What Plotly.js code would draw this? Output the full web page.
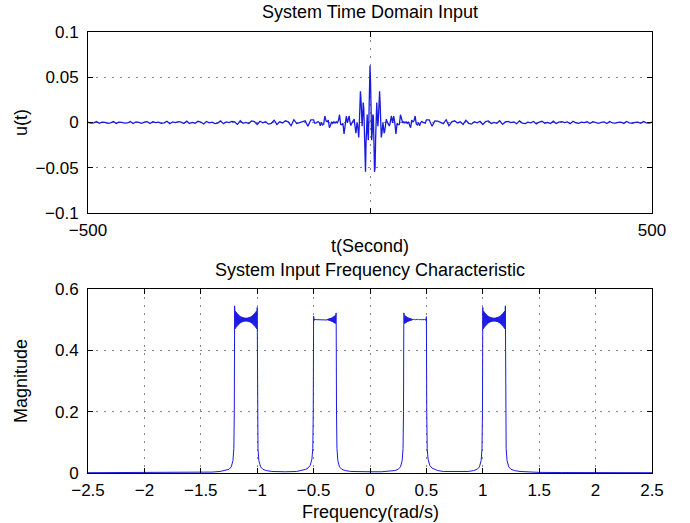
<!DOCTYPE html>
<html>
<head>
<meta charset="utf-8">
<script src="https://cdn.plot.ly/plotly-3.0.1.min.js"></script>
<style>html,body{margin:0;padding:0;background:#fff;}#chart{width:690px;height:523px;}</style>
</head>
<body>
<div id="chart"></div>
<script>
// ---------- Top panel: u(t) ----------
// sampled pieces: start time, step (s), values
const uFarNegStart = -500, uFarNegStep = 5;
const uFarNeg = [0.0003,-0.0006,-0.0004,0.0010,-0.0009,0.0004,0.0001,-0.0008,-0.0003,0.0011,
  -0.0010,0.0005,0.0001,-0.0007,-0.0005,0.0012,-0.0011,0.0006,0.0002,-0.0009,
  0.0003,0.0010,-0.0012,0.0008,-0.0001,0.0003,-0.0009,-0.0004,0.0014,-0.0013,
  0.0007,-0.0002,0.0009,0.0003,-0.0012,0.0015,-0.0010,0.0001,-0.0008,0.0013,
  0.0005,-0.0016,0.0011,-0.0003,0.0004,-0.0012,-0.0007,0.0018,-0.0014,0.0006,
  -0.0002,0.0011,0.0006,-0.0021,0.0019,-0.0009,0.0001,-0.0010,0.0017,0.0011,
  -0.0022,0.0014,-0.0003,0.0008,-0.0018,-0.0009,0.0025,-0.0021,0.0007,-0.0005,
  0.0019,0.0008,-0.0036,0.0031,-0.0012,-0.0002,0.0015,0.0018,-0.0041,0.0030];
const uMidNegStart = -100, uMidNegStep = 2;
const uMidNeg = [0.0029,-0.0007,-0.0006,0.0000,0.0011,-0.0001,-0.0035,-0.0001,-0.0027,-0.0016,
  0.0072,0.0017,0.0007,0.0028,-0.0058,-0.0030,0.0008,-0.0010,0.0007,-0.0007,
  0.0008,-0.0005,0.0021,0.0086,-0.0023,-0.0026,-0.0008,-0.0127,-0.0002,0.0070];
const uCoreStart = -40, uCoreStep = 1;
const uCore = [-0.0003,0.0029,0.0074,0.0073,0.0023,-0.0027,-0.0035,-0.0015,-0.0001,0.0000,
  0.0012,0.0038,0.0038,-0.0019,-0.0097,-0.0118,-0.0061,0.0001,-0.0025,-0.0126,
  -0.0166,-0.0034,0.0205,0.0345,0.0260,0.0054,-0.0040,0.0072,0.0221,0.0151,
  -0.0174,-0.0500,-0.0545,-0.0233,0.0064,0.0089,-0.0104,-0.0196,0.0034,0.0437,
  0.0630,
  0.0437,0.0034,-0.0196,-0.0104,0.0089,0.0064,-0.0233,-0.0545,-0.0500,-0.0174,
  0.0151,0.0221,0.0072,-0.0040,0.0054,0.0260,0.0345,0.0205,-0.0034,-0.0166,
  -0.0126,-0.0025,0.0001,-0.0061,-0.0118,-0.0097,-0.0019,0.0038,0.0038,0.0012,
  0.0000,-0.0001,-0.0015,-0.0035,-0.0027,0.0023,0.0073,0.0074,0.0029,-0.0003];
const uMidPosStart = 42, uMidPosStep = 2;
const uMidPos = [0.0070,-0.0002,-0.0127,-0.0008,-0.0026,-0.0023,0.0086,0.0021,-0.0005,0.0008,
  -0.0007,0.0007,-0.0010,0.0008,-0.0030,-0.0058,0.0028,0.0007,0.0017,0.0072,
  -0.0016,-0.0027,-0.0001,-0.0035,-0.0001,0.0011,0.0000,-0.0006,-0.0007,0.0029];
const uFarPosStart = 105, uFarPosStep = 5;
const uFarPos = [0.0030,-0.0041,0.0018,0.0015,-0.0002,-0.0012,0.0031,-0.0036,0.0008,0.0019,
  -0.0005,0.0007,-0.0021,0.0025,-0.0009,-0.0018,0.0008,-0.0003,0.0014,-0.0022,
  0.0011,0.0017,-0.0010,0.0001,-0.0009,0.0019,-0.0021,0.0006,0.0011,-0.0002,
  0.0006,-0.0014,0.0018,-0.0007,-0.0012,0.0004,-0.0003,0.0011,-0.0016,0.0005,
  0.0013,-0.0008,0.0001,-0.0010,0.0015,-0.0012,0.0003,0.0009,-0.0002,0.0007,
  -0.0013,0.0014,-0.0004,-0.0009,0.0003,-0.0001,0.0008,-0.0012,0.0010,0.0003,
  -0.0009,0.0002,0.0006,-0.0011,0.0012,-0.0005,-0.0007,0.0001,0.0005,-0.0010,
  0.0011,-0.0003,-0.0008,0.0001,0.0004,-0.0009,0.0010,-0.0004,-0.0006,0.0003];

// ---------- Bottom panel: magnitude spectrum ----------
// skirts / baseline points (frequency, magnitude)
const skirtW = [-2.5,-2.0,-1.7,-1.5,-1.4,-1.33,-1.28,-1.25,-1.23,-1.215,-1.207,-1.203,
  -0.997,-0.993,-0.985,-0.97,-0.95,-0.92,-0.87,-0.8,-0.75,-0.65,-0.6,-0.57,-0.55,-0.53,-0.515,-0.507,-0.503,
  -0.297,-0.293,-0.285,-0.27,-0.25,-0.22,-0.17,-0.1,0,0.1,0.17,0.22,0.25,0.27,0.285,0.293,0.297,
  0.503,0.507,0.515,0.53,0.55,0.57,0.6,0.65,0.75,0.8,0.87,0.92,0.95,0.97,0.985,0.993,0.997,
  1.203,1.207,1.215,1.23,1.25,1.28,1.33,1.4,1.5,1.7,2.0,2.5];
const skirtM = [0.001,0.001,0.0015,0.002,0.003,0.005,0.008,0.012,0.02,0.04,0.08,0.2,
  0.2,0.08,0.04,0.02,0.012,0.008,0.005,0.004,0.004,0.005,0.008,0.012,0.016,0.025,0.045,0.08,0.2,
  0.2,0.08,0.04,0.02,0.012,0.008,0.005,0.004,0.004,0.004,0.005,0.008,0.012,0.02,0.04,0.08,0.2,
  0.2,0.08,0.045,0.025,0.016,0.012,0.008,0.005,0.004,0.004,0.005,0.008,0.012,0.02,0.04,0.08,0.2,
  0.2,0.08,0.04,0.02,0.012,0.008,0.005,0.003,0.002,0.0015,0.001,0.001];
// rippled pass-band tops: band start frequency, step, values
const bandStart = [-1.2, -0.5, 0.3, 1.0];
const bandStep = 0.004;
const topOuterL = [0.545,0.470,0.528,0.474,0.524,0.478,0.520,0.481,0.517,0.484,0.514,0.487,0.512,0.489,0.510,0.491,0.509,0.492,0.508,0.493,0.507,0.494,0.506,0.494,0.506,0.495,
  0.506,0.494,0.506,0.494,0.507,0.493,0.508,0.492,0.509,0.491,0.510,0.489,0.512,0.487,0.514,0.484,0.517,0.481,0.520,0.478,0.524,0.474,0.528,0.470,0.540];
const topInnerL = [0.512,0.497,0.502,0.499,0.501,0.500,0.500,0.501,0.499,0.500,0.500,0.501,0.499,0.500,0.500,0.501,0.499,0.500,0.501,0.499,
  0.500,0.501,0.499,0.500,0.501,0.499,0.500,0.501,0.499,0.501,0.499,0.502,0.498,0.503,0.497,0.504,0.496,0.505,0.495,0.506,
  0.494,0.507,0.493,0.509,0.491,0.511,0.489,0.513,0.487,0.516,0.522];
const topInnerR = [0.522,0.516,0.487,0.513,0.489,0.511,0.491,0.509,0.493,0.507,0.494,0.506,0.495,0.505,0.496,0.504,0.497,0.503,0.498,0.502,
  0.499,0.501,0.499,0.500,0.501,0.499,0.500,0.501,0.499,0.500,0.501,0.499,0.500,0.501,0.499,0.500,0.500,0.501,0.499,0.500,
  0.500,0.501,0.499,0.500,0.500,0.501,0.499,0.501,0.502,0.497,0.510];
const topOuterR = [0.540,0.470,0.528,0.474,0.524,0.478,0.520,0.481,0.517,0.484,0.514,0.487,0.512,0.489,0.510,0.491,0.509,0.492,0.508,0.493,0.507,0.494,0.506,0.494,0.506,0.495,
  0.506,0.494,0.506,0.494,0.507,0.493,0.508,0.492,0.509,0.491,0.510,0.489,0.512,0.487,0.514,0.484,0.517,0.481,0.520,0.478,0.524,0.474,0.528,0.470,0.545];
const bandTops = [topOuterL, topInnerL, topInnerR, topOuterR];

// tick labels (the reference shows no label under the 0 tick of the time axis)
const topXTicks = [-500, 0, 500], topXText = ['\u2212500', '', '500'];
const topYTicks = [-0.1, -0.05, 0, 0.05, 0.1], topYText = ['\u22120.1', '\u22120.05', '0', '0.05', '0.1'];
const botXTicks = [-2.5,-2,-1.5,-1,-0.5,0,0.5,1,1.5,2,2.5];
const botXText = ['\u22122.5','\u22122','\u22121.5','\u22121','\u22120.5','0','0.5','1','1.5','2','2.5'];
const botYTicks = [0, 0.2, 0.4, 0.6], botYText = ['0', '0.2', '0.4', '0.6'];

// ---------- assemble ----------
function piece(start, step, vals, tx, ty) { vals.forEach((v, i) => { tx.push(+(start + i * step).toFixed(4)); ty.push(v); }); }
const tt = [], uu = [];
piece(uFarNegStart, uFarNegStep, uFarNeg, tt, uu);
piece(uMidNegStart, uMidNegStep, uMidNeg, tt, uu);
piece(uCoreStart, uCoreStep, uCore, tt, uu);
piece(uMidPosStart, uMidPosStep, uMidPos, tt, uu);
piece(uFarPosStart, uFarPosStep, uFarPos, tt, uu);

let pts = skirtW.map((w, i) => [w, skirtM[i]]);
bandTops.forEach((vals, b) => { const bx = [], by = []; piece(bandStart[b], bandStep, vals, bx, by); bx.forEach((w, i) => pts.push([w, by[i]])); });
pts.sort((a, b) => a[0] - b[0]);
const ww = pts.map(p => p[0]), mm = pts.map(p => p[1]);

const lineCol = '#1a1ae0';
const FONT = 'Liberation Sans, Arial, Helvetica, sans-serif';
const traces = [
  { x: tt, y: uu, type: 'scatter', mode: 'lines', line: { color: lineCol, width: 1.3 }, xaxis: 'x', yaxis: 'y', hoverinfo: 'skip' },
  { x: ww, y: mm, type: 'scatter', mode: 'lines', line: { color: lineCol, width: 1 }, xaxis: 'x2', yaxis: 'y2', hoverinfo: 'skip' }
];

const axCommon = {
  showline: true, linecolor: '#000', linewidth: 1, mirror: 'ticks',
  ticks: 'inside', ticklen: 5, tickcolor: '#000', tickwidth: 1,
  showgrid: true, gridcolor: '#8a8a8a', griddash: '2px,6px', gridwidth: 1,
  zeroline: false, tickfont: { family: FONT, size: 17, color: '#000' }, tickmode: 'array'
};
const P = (px) => (px - 88) / 564, Q = (py) => (473 - py) / 441;
const annFont = { family: FONT, size: 18, color: '#000' };
const layout = {
  width: 690, height: 523, showlegend: false,
  paper_bgcolor: '#fff', plot_bgcolor: '#fff',
  margin: { l: 88, r: 38, t: 32, b: 50 },
  xaxis: Object.assign({}, axCommon, { domain: [0, 1], anchor: 'y', range: [-500, 500], tickvals: topXTicks, ticktext: topXText, ticklabelstandoff: 2 }),
  yaxis: Object.assign({}, axCommon, { domain: [Q(213), 1], anchor: 'x', range: [-0.1, 0.1], tickvals: topYTicks, ticktext: topYText, ticklabelstandoff: 5 }),
  xaxis2: Object.assign({}, axCommon, { domain: [0, 1], anchor: 'y2', range: [-2.5, 2.5], tickvals: botXTicks, ticktext: botXText, ticklabelstandoff: 2 }),
  yaxis2: Object.assign({}, axCommon, { domain: [0, Q(289)], anchor: 'x2', range: [0, 0.6], tickvals: botYTicks, ticktext: botYText, ticklabelstandoff: 5 }),
  annotations: [
    { text: 'System Time Domain Input', xref: 'paper', yref: 'paper', x: P(370), y: Q(12), xanchor: 'center', yanchor: 'middle', showarrow: false, font: annFont },
    { text: 't(Second)', xref: 'paper', yref: 'paper', x: P(370), y: Q(246), xanchor: 'center', yanchor: 'middle', showarrow: false, font: annFont },
    { text: 'System Input Frequency Characteristic', xref: 'paper', yref: 'paper', x: P(370), y: Q(270), xanchor: 'center', yanchor: 'middle', showarrow: false, font: annFont },
    { text: 'Frequency(rad/s)', xref: 'paper', yref: 'paper', x: P(370), y: Q(512), xanchor: 'center', yanchor: 'middle', showarrow: false, font: annFont },
    { text: 'u(t)', xref: 'paper', yref: 'paper', x: P(21), y: Q(123), xanchor: 'center', yanchor: 'middle', textangle: -90, showarrow: false, font: annFont },
    { text: 'Magnitude', xref: 'paper', yref: 'paper', x: P(21), y: Q(381), xanchor: 'center', yanchor: 'middle', textangle: -90, showarrow: false, font: annFont }
  ]
};
Plotly.newPlot('chart', traces, layout, { staticPlot: true, displayModeBar: false });
</script>
</body>
</html>
